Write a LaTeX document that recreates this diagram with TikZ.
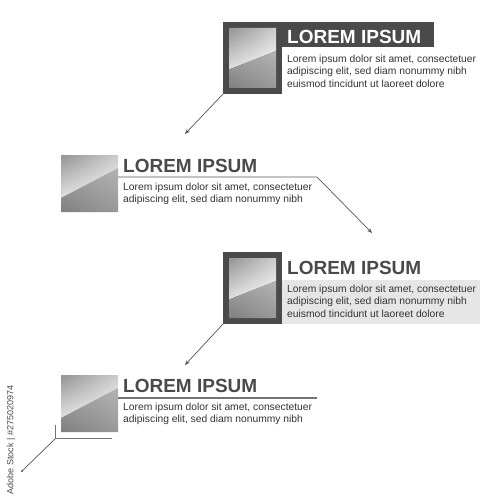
\documentclass[tikz,border=0pt]{standalone}
\usepackage{fontspec}
\setmainfont{Liberation Sans}
\usetikzlibrary{arrows.meta,shadings}
\definecolor{dk}{HTML}{4A4A4A}
\definecolor{txt}{HTML}{333333}
\definecolor{lbox}{HTML}{E6E6E6}
\definecolor{ln}{HTML}{555555}
\newcommand\gsq[6]{%
 \shade[upper left=black!42, upper right=black!20, lower left=black!12, lower right=white] (#1,#2) -- (#3,#2) -- (#3,#6) -- (#1,#5) -- cycle;
 \shade[upper left=black!36, upper right=black!30, lower left=black!50, lower right=black!40] (#1,#5) -- (#3,#6) -- (#3,#4) -- (#1,#4) -- cycle;}
\begin{document}
\begin{tikzpicture}[x=1pt,y=-1pt,
 title/.style={anchor=base west,inner sep=0,font=\fontsize{19}{19}\selectfont\bfseries},
 body/.style={anchor=base west,inner sep=0,font=\fontsize{10.3}{12}\selectfont,text=txt},
 conn/.style={draw=ln,line width=0.7pt},
 arr/.style={conn,-{Stealth[length=5pt,width=4pt]}},
 box/.style={draw=none,inner sep=0,outer sep=0,rectangle}]
\useasboundingbox (0,0) rectangle (500,500);
\fill[white] (0,0) rectangle (500,500);
% block 1
\node[box,fill=dk,minimum width=59pt,minimum height=72pt] (f1) at (252.5,58) {};
\node[box,fill=dk,minimum width=152pt,minimum height=25pt] (t1bar) at (358,34.5) {};
\gsq{229}{28}{276}{88}{69.5}{51}
\node[title,text=white] (t1) at (287,44) {LOREM IPSUM};
\node[body] (b1a) at (287,62.5) {Lorem ipsum dolor sit amet, consectetuer};
\node[body] (b1b) at (287,74.8) {adipiscing elit, sed diam nonummy nibh};
\node[body] (b1c) at (287,87.1) {euismod tincidunt ut laoreet dolore};
\coordinate (a1) at (185,134);
\draw[arr] (f1.south west) -- (a1);
% block 2
\node[box,minimum width=57pt,minimum height=57pt] (s2) at (89.5,183.5) {};
\gsq{61}{155}{118}{212}{198}{168}
\node[title,text=dk] (t2) at (123,172) {LOREM IPSUM};
\node[body] (b2a) at (123,190) {Lorem ipsum dolor sit amet, consectetuer};
\node[body] (b2b) at (123,202.3) {adipiscing elit, sed diam nonummy nibh};
\coordinate (c2a) at (317,177);
\coordinate (a2) at (372,233);
\draw[arr] (s2.east |- c2a) -- (c2a) -- (a2);
% block 3
\node[box,fill=lbox,minimum width=198pt,minimum height=44pt] (lb3) at (381,302) {};
\node[box,fill=dk,minimum width=59pt,minimum height=72pt] (f3) at (252.5,288) {};
\gsq{229}{258}{276}{318}{299.5}{281}
\node[title,text=dk] (t3) at (287,274) {LOREM IPSUM};
\node[body] (b3a) at (287,292.5) {Lorem ipsum dolor sit amet, consectetuer};
\node[body] (b3b) at (287,304.8) {adipiscing elit, sed diam nonummy nibh};
\node[body] (b3c) at (287,317.1) {euismod tincidunt ut laoreet dolore};
\coordinate (a3) at (185,365);
\draw[arr] (f3.south west) -- (a3);
% block 4
\node[box,minimum width=57pt,minimum height=57pt] (s4) at (89.5,403.5) {};
\gsq{61}{375}{118}{432}{418}{388}
\node[title,text=dk] (t4) at (123,392) {LOREM IPSUM};
\coordinate (c4) at (317,398);
\draw[draw=black!55,line width=1.1pt] (s4.east |- c4) -- (c4);
\node[body] (b4a) at (123,410) {Lorem ipsum dolor sit amet, consectetuer};
\node[body] (b4b) at (123,422.3) {adipiscing elit, sed diam nonummy nibh};
\coordinate (k1) at (55.5,425);
\coordinate (k2) at (55.5,438.5);
\coordinate (k3) at (112,438.5);
\coordinate (k4) at (22,471);
\draw[draw=black!55,line width=1.1pt] (k1) -- (k2);
\draw[draw=black!55,line width=1.8pt] (k2) -- (k3);
\draw[conn] (k2) -- (k4);
\fill[ln] (k4) circle (1.1);
% watermark
\node[rotate=90,font=\fontsize{9}{9}\selectfont,text=black!70,inner sep=0] (wm) at (11,440) {Adobe Stock | \#275020974};
\end{tikzpicture}
\end{document}
